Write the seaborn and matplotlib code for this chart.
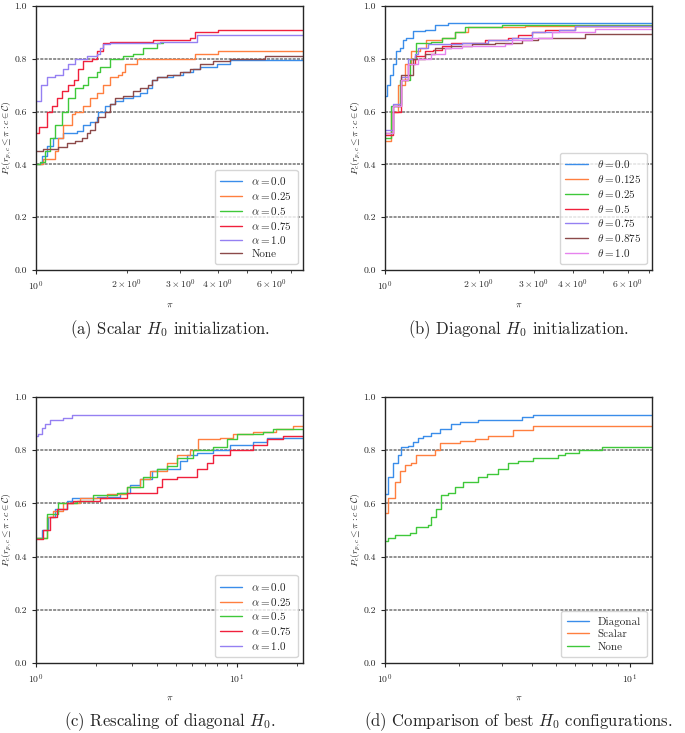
import matplotlib
matplotlib.use('Agg')
import matplotlib.pyplot as plt
import seaborn as sns

# ---------------------------------------------------------
# style
# ---------------------------------------------------------
sns.set_style("ticks")
plt.rcParams['font.family'] = ['serif']
plt.rcParams['font.serif'] = ['cmr10', 'DejaVu Serif']
plt.rcParams['mathtext.fontset'] = 'cm'
plt.rcParams['axes.formatter.use_mathtext'] = True
plt.rcParams['axes.unicode_minus'] = False

colors = ['#3a8dea', '#ff7f3f', '#3fc83a', '#f0203c', '#9580f2', '#8c4a4a', '#e683ee']

# ---------------------------------------------------------
# data (step curves: breakpoints, steps-post)
# ---------------------------------------------------------
# (a) scalar H0
a_labels = [r'$\alpha = 0.0$', r'$\alpha = 0.25$', r'$\alpha = 0.5$',
            r'$\alpha = 0.75$', r'$\alpha = 1.0$', 'None']
a_x00 = [1, 1.044, 1.085, 1.141, 1.231, 1.363, 1.434, 1.509, 1.588, 1.608, 1.691, 1.757, 1.825,
         1.945, 2.099, 2.208, 2.323, 2.413, 2.507, 2.846, 3.071, 3.314, 3.487, 3.959, 4.383, 7.66]
a_y00 = [0.40, 0.43, 0.47, 0.50, 0.52, 0.525, 0.55, 0.56, 0.58, 0.60, 0.62, 0.63, 0.64,
         0.65, 0.66, 0.67, 0.69, 0.72, 0.73, 0.74, 0.75, 0.76, 0.77, 0.78, 0.795, 0.795]
a_x25 = [1, 1.057, 1.156, 1.185, 1.231, 1.312, 1.346, 1.434, 1.509, 1.588, 1.670, 1.757,
         1.872, 1.920, 1.970, 2.153, 3.357, 4.009, 7.66]
a_y25 = [0.40, 0.42, 0.45, 0.50, 0.55, 0.59, 0.60, 0.62, 0.65, 0.67, 0.70, 0.73,
         0.74, 0.75, 0.78, 0.80, 0.82, 0.83, 0.83]
a_x50 = [1, 1.031, 1.071, 1.112, 1.156, 1.216, 1.279, 1.346, 1.434, 1.490, 1.588, 1.628,
         1.757, 1.945, 2.099, 2.265, 2.507, 2.638]
a_y50 = [0.40, 0.41, 0.45, 0.50, 0.55, 0.60, 0.65, 0.69, 0.70, 0.73, 0.75, 0.77,
         0.80, 0.81, 0.82, 0.84, 0.86, 0.86]
a_x75 = [1, 1.02, 1.085, 1.127, 1.170, 1.216, 1.279, 1.336, 1.380, 1.434, 1.528, 1.588,
         1.670, 1.757, 2.444, 3.231, 3.357, 4.009, 7.66]
a_y75 = [0.52, 0.54, 0.60, 0.62, 0.65, 0.68, 0.70, 0.72, 0.76, 0.79, 0.80, 0.83,
         0.86, 0.865, 0.87, 0.88, 0.90, 0.91, 0.91]
a_x10 = [1, 1.036, 1.085, 1.156, 1.231, 1.279, 1.346, 1.471, 1.588, 1.628, 1.670, 1.757,
         2.571, 3.400, 7.66]
a_y10 = [0.64, 0.70, 0.73, 0.74, 0.76, 0.78, 0.80, 0.81, 0.82, 0.84, 0.855, 0.86,
         0.865, 0.89, 0.89]
a_xno = [1, 1.057, 1.185, 1.263, 1.346, 1.416, 1.471, 1.509, 1.567, 1.608, 1.691, 1.757,
         1.825, 1.945, 2.099, 2.208, 2.353, 2.413, 2.507, 2.705, 2.994, 3.231, 3.487,
         3.860, 4.383, 5.72, 7.66]
a_yno = [0.45, 0.46, 0.465, 0.48, 0.49, 0.50, 0.52, 0.53, 0.56, 0.58, 0.60, 0.63,
         0.65, 0.66, 0.68, 0.69, 0.70, 0.72, 0.73, 0.74, 0.75, 0.76, 0.78,
         0.79, 0.80, 0.81, 0.81]

# (b) diagonal H0
b_labels = [r'$\theta = 0.0$', r'$\theta = 0.125$', r'$\theta = 0.25$', r'$\theta = 0.5$',
            r'$\theta = 0.75$', r'$\theta = 0.875$', r'$\theta = 1.0$']
b_x0 = [1, 1.017, 1.035, 1.061, 1.087, 1.115, 1.143, 1.171, 1.230, 1.341, 1.445, 1.594, 7.185]
b_y0 = [0.66, 0.70, 0.74, 0.78, 0.83, 0.84, 0.87, 0.88, 0.905, 0.91, 0.93, 0.935, 0.935]
b_x1 = [1, 1.048, 1.101, 1.157, 1.215, 1.293, 1.358, 1.518, 1.675, 1.849, 2.812, 7.185]
b_y1 = [0.49, 0.60, 0.70, 0.78, 0.83, 0.84, 0.87, 0.88, 0.90, 0.92, 0.925, 0.925]
b_x2 = [1, 1.048, 1.115, 1.200, 1.261, 1.409, 1.518, 1.675, 1.804, 2.366, 7.185]
b_y2 = [0.50, 0.62, 0.72, 0.80, 0.86, 0.865, 0.88, 0.90, 0.92, 0.93, 0.93]
b_x3 = [1, 1.061, 1.129, 1.186, 1.245, 1.341, 1.427, 1.518, 1.634, 2.092, 2.486, 2.677,
        2.954, 3.262, 4.073, 7.185]
b_y3 = [0.51, 0.60, 0.72, 0.78, 0.81, 0.83, 0.835, 0.85, 0.86, 0.87, 0.88, 0.89,
        0.90, 0.91, 0.925, 0.925]
b_x4 = [1, 1.061, 1.129, 1.186, 1.245, 1.277, 1.375, 1.760, 2.144, 2.548, 2.954, 3.600, 4.073, 7.185]
b_y4 = [0.53, 0.63, 0.73, 0.80, 0.82, 0.84, 0.855, 0.86, 0.87, 0.88, 0.90, 0.91, 0.923, 0.923]
b_x5 = [1, 1.061, 1.129, 1.230, 1.341, 1.445, 1.634, 1.895, 2.253, 2.744, 3.105, 4.385, 7.185]
b_y5 = [0.52, 0.62, 0.74, 0.80, 0.82, 0.84, 0.85, 0.855, 0.86, 0.87, 0.88, 0.893, 0.893]
b_x6 = [1, 1.061, 1.129, 1.186, 1.277, 1.409, 1.555, 1.760, 2.426, 2.548, 2.954, 3.427, 4.723, 7.185]
b_y6 = [0.52, 0.62, 0.72, 0.78, 0.80, 0.82, 0.84, 0.85, 0.855, 0.87, 0.88, 0.90, 0.915, 0.915]

# (c) rescaling of diagonal H0
c_labels = [r'$\alpha = 0.0$', r'$\alpha = 0.25$', r'$\alpha = 0.5$',
            r'$\alpha = 0.75$', r'$\alpha = 1.0$']
c_x00 = [1, 1.067, 1.152, 1.244, 1.422, 1.506, 2.006, 2.622, 2.941, 3.298, 3.771, 3.994,
         5.219, 5.634, 6.318, 7.65, 9.26, 12.11, 14.11, 21.5]
c_y00 = [0.47, 0.50, 0.55, 0.58, 0.61, 0.62, 0.625, 0.64, 0.67, 0.69, 0.72, 0.73,
         0.76, 0.78, 0.79, 0.80, 0.82, 0.83, 0.845, 0.845]
c_x25 = [1, 1.130, 1.220, 1.368, 1.657, 2.250, 2.830, 3.298, 3.700, 4.479, 5.023, 5.854,
         6.44, 8.26, 9.62, 12.11, 15.82, 19.16, 21.5]
c_y25 = [0.47, 0.55, 0.57, 0.60, 0.62, 0.635, 0.66, 0.69, 0.72, 0.75, 0.78, 0.80,
         0.84, 0.845, 0.86, 0.87, 0.88, 0.89, 0.89]
c_x50 = [1, 1.130, 1.292, 1.595, 1.931, 2.523, 2.830, 3.427, 3.994, 4.479, 5.023, 6.081,
         7.65, 8.92, 10.0, 13.58, 15.23, 21.5]
c_y50 = [0.47, 0.56, 0.60, 0.61, 0.63, 0.64, 0.66, 0.70, 0.73, 0.74, 0.77, 0.80,
         0.81, 0.84, 0.86, 0.87, 0.88, 0.88]
c_x75 = [1, 1.088, 1.174, 1.268, 1.422, 1.535, 2.084, 2.830, 3.994, 4.229, 5.023, 6.318,
         7.087, 7.65, 9.26, 12.11, 14.11, 17.09, 21.5]
c_y75 = [0.465, 0.50, 0.55, 0.58, 0.60, 0.61, 0.62, 0.64, 0.66, 0.69, 0.70, 0.73,
         0.75, 0.78, 0.80, 0.82, 0.84, 0.855, 0.855]
c_x10 = [1, 1.027, 1.067, 1.109, 1.174, 1.368, 1.506, 21.5]
c_y10 = [0.855, 0.86, 0.885, 0.90, 0.915, 0.92, 0.933, 0.933]

# (d) best configurations
d_labels = ['Diagonal', 'Scalar', 'None']
d_xdiag = [1, 1.029, 1.078, 1.131, 1.167, 1.242, 1.302, 1.365, 1.431, 1.549, 1.675, 1.870,
           2.023, 2.405, 3.621, 4.043, 12.35]
d_ydiag = [0.635, 0.70, 0.75, 0.78, 0.81, 0.815, 0.83, 0.845, 0.855, 0.865, 0.88, 0.90,
           0.905, 0.915, 0.925, 0.933, 0.933]
d_xscal = [1, 1.029, 1.095, 1.148, 1.204, 1.282, 1.344, 1.598, 1.675, 2.023, 2.331, 2.643,
           3.346, 4.043, 12.35]
d_yscal = [0.565, 0.62, 0.68, 0.72, 0.745, 0.75, 0.78, 0.80, 0.825, 0.835, 0.84, 0.855,
           0.875, 0.89, 0.89]
d_xnone = [1, 1.029, 1.095, 1.262, 1.344, 1.501, 1.549, 1.623, 1.702, 1.812, 1.930, 2.088,
           2.405, 2.602, 2.905, 3.192, 3.508, 4.043, 5.117, 5.448, 6.18, 7.70, 12.35]
d_ynone = [0.46, 0.47, 0.48, 0.49, 0.51, 0.52, 0.55, 0.58, 0.63, 0.64, 0.66, 0.68,
           0.70, 0.71, 0.73, 0.75, 0.76, 0.77, 0.78, 0.79, 0.80, 0.81, 0.81]

panels = [
    ([0.0526, 0.6317, 0.390, 0.360], a_labels,
     [(a_x00, a_y00), (a_x25, a_y25), (a_x50, a_y50), (a_x75, a_y75), (a_x10, a_y10), (a_xno, a_yno)],
     7.66, r'(a) Scalar $H_0$ initialization.', 0.55),
    ([0.562, 0.6317, 0.390, 0.360], b_labels,
     [(b_x0, b_y0), (b_x1, b_y1), (b_x2, b_y2), (b_x3, b_y3), (b_x4, b_y4), (b_x5, b_y5), (b_x6, b_y6)],
     7.185, r'(b) Diagonal $H_0$ initialization.', 0.55),
    ([0.0526, 0.0955, 0.390, 0.363], c_labels,
     [(c_x00, c_y00), (c_x25, c_y25), (c_x50, c_y50), (c_x75, c_y75), (c_x10, c_y10)],
     21.5, r'(c) Rescaling of diagonal $H_0$.', 0.015),
    ([0.562, 0.0955, 0.390, 0.363], d_labels,
     [(d_xdiag, d_ydiag), (d_xscal, d_yscal), (d_xnone, d_ynone)],
     12.35, r'(d) Comparison of best $H_0$ configurations.', 0.015),
]

fig = plt.figure(figsize=(6.85, 7.33), dpi=100)

for rect, labels, curves, xmax, caption, cap_y in panels:
    ax = fig.add_axes(rect)
    for i, (xs, ys) in enumerate(curves):
        sns.lineplot(x=xs, y=ys, ax=ax, color=colors[i], label=labels[i],
                     drawstyle='steps-post', linewidth=1.0, estimator=None, sort=False)
    ax.set_xscale('log')
    ax.set_xlim(1, xmax)
    ax.set_ylim(0, 1)
    ax.set_yticks([0.0, 0.2, 0.4, 0.6, 0.8, 1.0])
    ax.set_yticklabels(['0.0', '0.2', '0.4', '0.6', '0.8', '1.0'])
    for gy in [0.2, 0.4, 0.6, 0.8]:
        ax.axhline(gy, color='0.45', linestyle=(0, (2, 0.8)), linewidth=1.1, zorder=0)
    ax.tick_params(which='both', labelsize=7)
    ax.tick_params(which='major', length=3, width=0.8)
    ax.tick_params(which='minor', length=2, width=0.6)
    for sp in ax.spines.values():
        sp.set_linewidth(1.0)
        sp.set_color('0.15')
    ax.set_xlabel(r'$\pi$', fontsize=7, labelpad=6)
    ax.set_ylabel(r'$P_c(r_{p,c} \leq \pi : c \in \mathcal{C})$', fontsize=7)
    ax.yaxis.set_label_coords(-0.083, 0.5)
    ax.legend(loc='lower right', fontsize=8, frameon=True, handlelength=2.0,
              borderpad=0.5, labelspacing=0.25, handletextpad=0.8)
    cx = rect[0] + rect[2] / 2
    fig.text(cx, cap_y, caption, ha='center', va='center', fontsize=12)

fig.savefig('out.png', dpi=100)
